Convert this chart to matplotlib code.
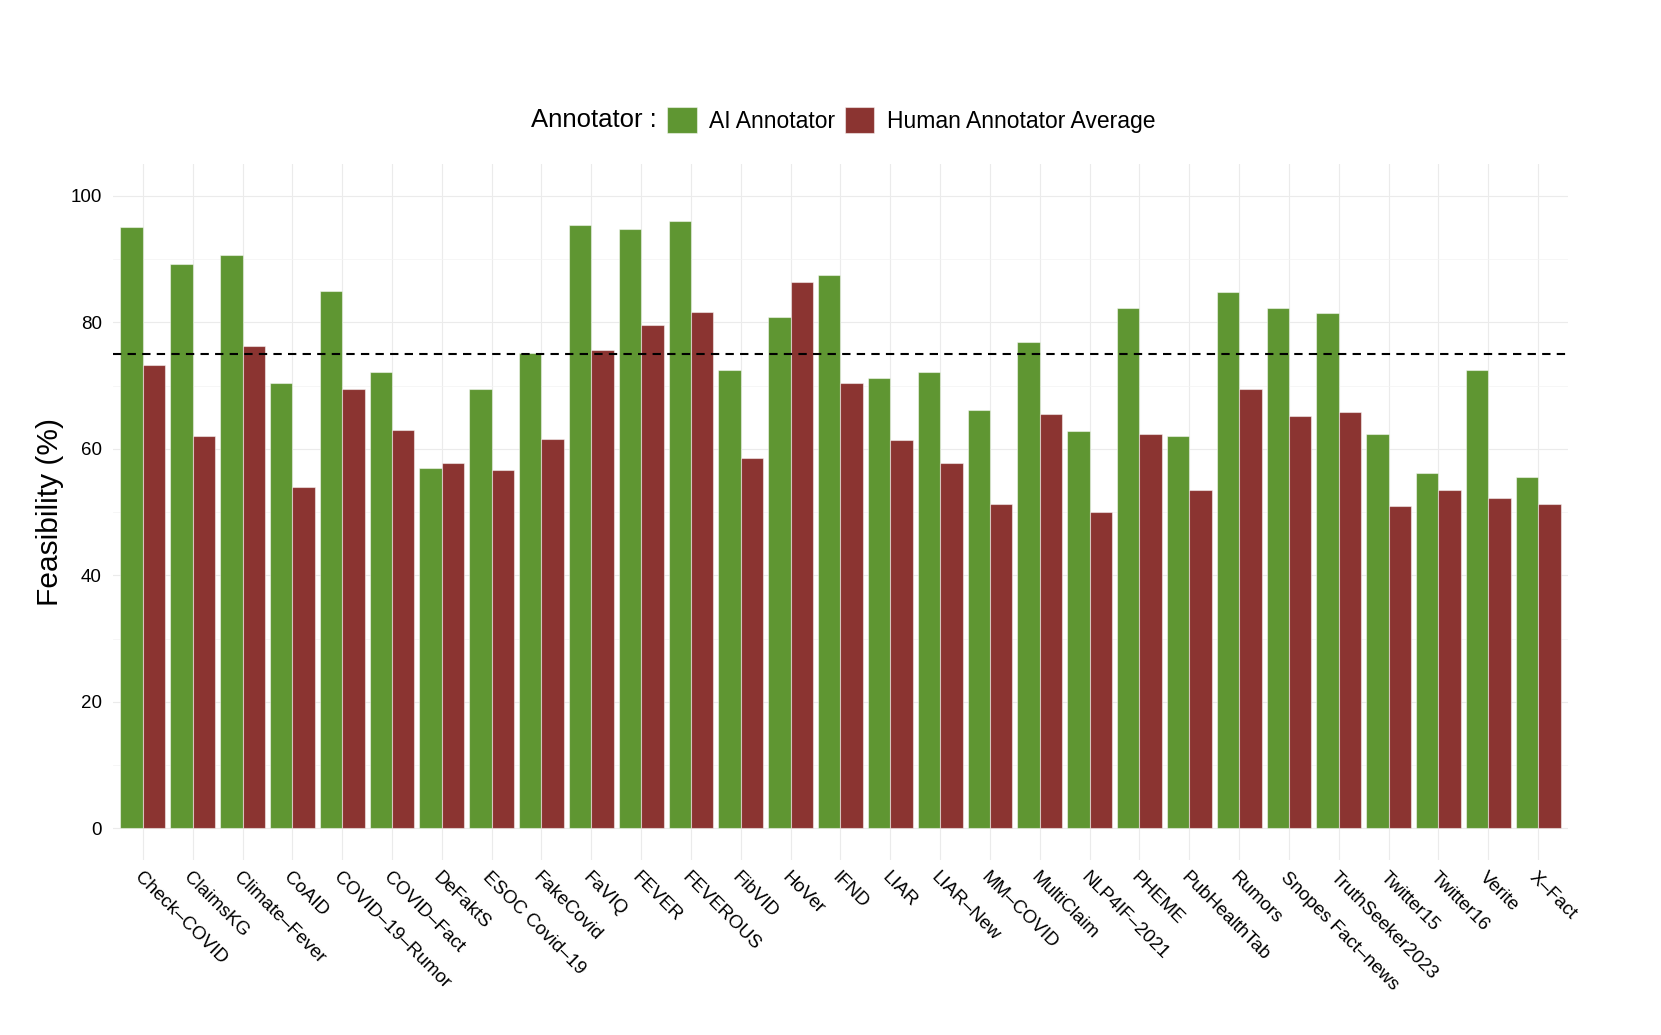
import matplotlib
matplotlib.use("Agg")
import matplotlib.pyplot as plt
import numpy as np
from matplotlib.patches import Patch

datasets = ["Check\u2013COVID", "ClaimsKG", "Climate\u2013Fever", "CoAID", "COVID\u201319\u2013Rumor",
            "COVID\u2013Fact", "DeFaktS", "ESOC Covid\u201319", "FakeCovid", "FaVIQ", "FEVER",
            "FEVEROUS", "FibVID", "HoVer", "IFND", "LIAR", "LIAR\u2013New", "MM\u2013COVID",
            "MultiClaim", "NLP4IF\u20132021", "PHEME", "PubHealthTab", "Rumors",
            "Snopes Fact\u2013news", "TruthSeeker2023", "Twitter15", "Twitter16", "Verite", "X\u2013Fact"]
ai_annotator = [95.1, 89.2, 90.6, 70.4, 85.0, 72.1, 56.9, 69.5, 75.1, 95.3, 94.8, 96.0, 72.4, 80.8,
                87.5, 71.2, 72.2, 66.2, 76.9, 62.8, 82.2, 62.0, 84.8, 82.3, 81.5, 62.3, 56.2, 72.4, 55.6]
human_average = [73.2, 62.0, 76.3, 54.0, 69.5, 63.0, 57.7, 56.6, 61.6, 75.6, 79.6, 81.6, 58.6, 86.4,
                 70.4, 61.4, 57.7, 51.3, 65.5, 50.0, 62.3, 53.5, 69.5, 65.2, 65.8, 51.0, 53.5, 52.2, 51.2]
threshold = 75
series_names = ["AI Annotator", "Human Annotator Average"]
colors = ["#5F9632", "#8B3431"]

plt.rcParams['font.family'] = ['Liberation Sans', 'DejaVu Sans']

fig = plt.figure(figsize=(16.61, 10.35), dpi=100)
ax = fig.add_axes([0.068, 0.169, 0.876, 0.6725])

x = np.arange(1, len(datasets) + 1)
w = 0.45
edge = (1, 1, 1, 0.5)
ax.bar(x - w / 2, ai_annotator, width=w, color=colors[0], edgecolor=edge, linewidth=0.8, zorder=3)
ax.bar(x + w / 2, human_average, width=w, color=colors[1], edgecolor=edge, linewidth=0.8, zorder=3)
ax.axhline(threshold, color="black", linestyle=(0, (4, 3)), linewidth=1.5, zorder=4)

ax.set_xlim(0.4, len(datasets) + 0.6)
ax.set_ylim(-5, 105)
ax.set_yticks([0, 20, 40, 60, 80, 100])
ax.set_yticks([10, 30, 50, 70, 90], minor=True)
ax.set_xticks(x)
ax.set_xticklabels(datasets, rotation=-45, ha='left', va='top', rotation_mode='anchor', fontsize=13.5)
ax.tick_params(axis='y', labelsize=13.5, length=0, pad=8, which='both')
ax.tick_params(axis='x', length=0, pad=6.5)
ax.grid(which='major', color='#EBEBEB', linewidth=0.8, zorder=0)
ax.grid(which='minor', axis='y', color='#F3F3F3', linewidth=0.5, zorder=0)
ax.set_axisbelow(True)
for s in ax.spines.values():
    s.set_visible(False)
ax.set_ylabel("Feasibility (%)", fontsize=21.5, labelpad=4.5)

fig.text(0.3197, 0.884, "Annotator :", fontsize=18.5, ha='left', va='center')
handles = [Patch(facecolor=c, edgecolor=edge, linewidth=0.8) for c in colors]
fig.legend(handles, series_names, loc='center left', bbox_to_anchor=(0.4015, 0.884), ncol=2,
           frameon=False, fontsize=16.5, handlelength=1.3, handleheight=1.35, handletextpad=0.55,
           columnspacing=0.4, borderpad=0, borderaxespad=0)

fig.savefig("out.png", dpi=100)
